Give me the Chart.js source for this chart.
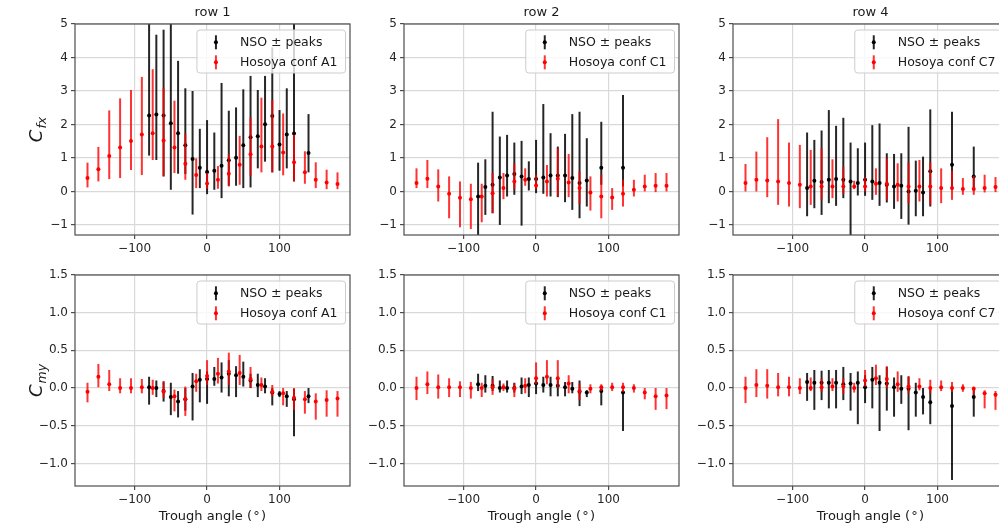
<!DOCTYPE html>
<html>
<head>
<meta charset="utf-8">
<script src="https://cdn.jsdelivr.net/npm/chart.js@4.4.1/dist/chart.umd.min.js"></script>
<style>
  html, body { margin: 0; padding: 0; background: #fff; }
  body { position: relative; width: 999px; height: 527px; overflow: hidden; }
  canvas { position: absolute; }
</style>
</head>
<body>
<script>
// ---- data ----
const hosoyaAngles = [-165,-150,-135,-120,-105,-90,-75,-60,-45,-30,-15,0,15,30,45,60,75,90,105,120,135,150,165,180];
const nsoAnglesRow1 = [-80,-70,-60,-50,-40,-30,-20,-10,0,10,20,30,40,50,60,70,80,90,100,110,120,140];
const nsoAnglesRow2 = [-80,-70,-60,-50,-40,-30,-20,-10,0,10,20,30,40,50,60,70,90,120];
const nsoAnglesRow4 = [-80,-70,-60,-50,-40,-30,-20,-10,0,10,20,30,40,50,60,70,80,90,120,150];

const rowTitles = ['row 1', 'row 2', 'row 4'];
const hosoyaConfs = ['A1', 'C1', 'C7'];
const angleTicks = [-100, 0, 100];
const cfxTicks = [-1, 0, 1, 2, 3, 4, 5];
const cmyTicks = [-1, -0.5, 0, 0.5, 1, 1.5];

// Cfx, row 1
const cfxRow1Hos     = [0.40,0.66,1.06,1.31,1.51,1.70,1.74,1.52,1.31,0.83,0.49,0.24,0.35,0.53,0.80,1.11,1.34,1.34,1.16,0.87,0.57,0.35,0.27,0.22];
const cfxRow1HosLow  = [0.12,0.30,0.37,0.40,0.64,0.49,0.94,0.45,0.55,0.35,0.10,0.08,0.08,0.15,0.20,0.47,0.57,0.57,0.48,0.30,0.23,0.10,0.07,0.07];
const cfxRow1HosHigh = [0.86,1.33,2.42,2.78,3.03,3.42,3.65,3.10,2.71,1.72,0.99,0.55,0.76,1.12,1.66,2.21,2.80,2.73,2.33,1.69,1.20,0.87,0.65,0.57];
const cfxRow1Nso     = [2.27,2.30,2.27,2.04,1.74,1.38,0.97,0.71,0.58,0.62,0.77,0.93,1.01,1.38,1.62,1.65,2.01,2.25,1.40,1.70,1.73,1.15];
const cfxRow1NsoLow  = [1.07,0.94,0.45,0.05,0.53,0.52,-0.69,0.10,-0.08,0.05,-0.20,0.17,0.17,0.10,0.12,0.69,0.89,0.57,0.62,0.69,0.30,0.57];
const cfxRow1NsoHigh = [5.60,4.68,4.83,5.30,3.90,3.08,3.00,1.87,2.13,1.76,3.24,2.41,2.51,3.05,3.45,3.03,3.45,4.30,2.43,3.08,5.50,2.31];

// Cfx, row 2
const cfxRow2Hos     = [0.25,0.38,0.15,-0.07,-0.19,-0.23,-0.15,-0.05,0.10,0.30,0.35,0.18,0.30,0.38,0.27,0.10,-0.03,-0.15,-0.18,-0.07,0.05,0.15,0.17,0.17];
const cfxRow2HosLow  = [0.10,0.10,-0.30,-0.80,-1.07,-1.12,-0.92,-0.65,-0.23,0.07,0.17,0.07,-0.15,-0.15,-0.17,-0.37,-0.57,-0.80,-0.55,-0.45,-0.15,0.00,-0.02,0.00];
const cfxRow2HosHigh = [0.69,0.94,0.66,0.45,0.30,0.23,0.23,0.55,0.55,0.84,0.69,0.50,0.79,1.29,1.12,0.60,0.45,0.50,0.10,0.35,0.35,0.50,0.55,0.55];
const cfxRow2Nso     = [-0.15,0.13,0.20,0.42,0.48,0.52,0.45,0.37,0.37,0.42,0.48,0.48,0.48,0.40,0.25,0.33,0.71,0.71];
const cfxRow2NsoLow  = [-1.60,-0.70,-0.65,-1.00,-0.15,-0.10,-1.02,0.03,-0.05,-0.07,-0.15,-0.17,-0.32,-0.55,-0.80,-0.45,0.20,0.15];
const cfxRow2NsoHigh = [0.86,0.96,2.38,1.64,1.69,1.46,1.51,0.90,1.54,2.61,1.74,1.34,1.72,2.31,2.38,1.59,2.08,2.88];

// Cfx, row 4
const cfxRow4Hos     = [0.25,0.35,0.33,0.30,0.25,0.20,0.15,0.15,0.15,0.15,0.15,0.15,0.23,0.23,0.20,0.15,0.15,0.15,0.10,0.10,0.07,0.07,0.10,0.13];
const cfxRow4HosLow  = [0.00,0.00,-0.17,-0.40,-0.45,-0.50,-0.40,-0.25,-0.20,-0.07,0.07,0.00,-0.10,-0.25,-0.30,-0.35,-0.30,-0.40,-0.35,-0.25,-0.10,-0.10,-0.03,-0.02];
const cfxRow4HosHigh = [0.82,1.19,1.62,2.16,1.46,1.39,1.24,1.29,0.96,0.74,0.32,0.42,0.69,0.99,0.84,0.87,0.94,0.87,0.69,0.62,0.40,0.47,0.50,0.43];
const cfxRow4Nso     = [0.10,0.32,0.28,0.35,0.37,0.35,0.30,0.25,0.35,0.30,0.25,0.20,0.15,0.17,0.00,0.02,-0.03,0.60,0.80,0.45];
const cfxRow4NsoLow  = [-0.74,-0.50,-0.70,-0.35,-0.43,-0.20,-1.50,-0.12,-0.13,-0.25,-0.43,-0.33,-0.52,-0.82,-0.99,-0.74,-0.74,-0.45,0.05,0.10];
const cfxRow4NsoHigh = [1.76,1.54,1.82,2.43,1.96,2.20,1.46,1.29,1.46,1.98,2.03,1.14,1.12,1.14,1.93,0.92,1.04,2.45,2.38,1.34];

// Cmy, row 1
const cmyRow1Hos     = [-0.05,0.15,0.05,0.00,0.00,0.01,0.00,-0.05,-0.11,-0.15,0.09,0.16,0.19,0.22,0.20,0.12,0.04,-0.05,-0.07,-0.13,-0.15,-0.18,-0.16,-0.14];
const cmyRow1HosLow  = [-0.19,0.01,-0.04,-0.07,-0.07,-0.07,-0.09,-0.13,-0.31,-0.37,-0.05,0.04,0.06,0.04,0.04,0.00,-0.04,-0.11,-0.23,-0.29,-0.34,-0.42,-0.38,-0.38];
const cmyRow1HosHigh = [0.07,0.32,0.24,0.13,0.13,0.12,0.11,0.08,-0.02,0.02,0.19,0.37,0.40,0.47,0.44,0.28,0.14,0.04,0.00,0.00,-0.04,-0.07,-0.03,-0.04];
const cmyRow1Nso     = [0.01,0.00,-0.04,-0.12,-0.18,-0.15,0.02,0.11,0.12,0.12,0.14,0.19,0.17,0.15,0.10,0.04,0.02,-0.06,-0.08,-0.11,-0.15,-0.11];
const cmyRow1NsoLow  = [-0.22,-0.12,-0.18,-0.36,-0.39,-0.30,-0.43,-0.19,-0.21,0.03,-0.06,-0.11,-0.12,0.02,0.00,-0.12,-0.07,-0.23,-0.12,-0.25,-0.64,-0.20];
const cmyRow1NsoHigh = [0.15,0.10,0.09,0.07,-0.04,0.00,0.20,0.25,0.22,0.28,0.34,0.37,0.29,0.35,0.19,0.19,0.13,0.00,-0.04,-0.04,-0.01,0.00];

// Cmy, row 2
const cmyRow2Hos     = [0.00,0.05,0.01,0.01,0.01,0.00,0.00,0.01,0.01,-0.01,0.03,0.13,0.15,0.13,0.06,-0.04,-0.01,0.01,0.01,0.01,0.00,-0.06,-0.11,-0.10];
const cmyRow2HosLow  = [-0.16,-0.08,-0.14,-0.12,-0.12,-0.14,-0.12,-0.09,-0.04,-0.12,-0.07,0.05,0.05,0.00,-0.07,-0.16,-0.07,-0.04,-0.04,-0.05,-0.06,-0.15,-0.29,-0.28];
const cmyRow2HosHigh = [0.15,0.22,0.18,0.13,0.09,0.08,0.07,0.12,0.06,0.06,0.13,0.34,0.37,0.37,0.17,0.06,0.05,0.05,0.07,0.07,0.05,0.00,0.00,0.00];
const cmyRow2Nso     = [0.05,0.03,0.03,0.00,0.00,0.00,0.02,0.04,0.06,0.04,0.04,0.03,0.01,-0.01,-0.05,-0.06,-0.04,-0.06];
const cmyRow2NsoLow  = [-0.04,-0.06,-0.04,-0.06,-0.06,-0.06,-0.08,-0.12,-0.08,-0.06,-0.11,-0.11,-0.11,-0.07,-0.24,-0.12,-0.23,-0.57];
const cmyRow2NsoHigh = [0.19,0.17,0.16,0.10,0.10,0.07,0.14,0.14,0.13,0.15,0.15,0.14,0.08,0.08,0.10,-0.03,0.02,-0.03];

// Cmy, row 4
const cmyRow4Hos     = [0.00,0.04,0.03,0.01,0.01,0.00,0.00,0.01,0.02,0.02,0.00,0.10,0.13,0.12,0.05,0.02,0.02,0.00,0.01,0.00,0.00,-0.01,-0.07,-0.09];
const cmyRow4HosLow  = [-0.20,-0.12,-0.14,-0.11,-0.11,-0.08,-0.04,-0.05,-0.04,-0.08,-0.06,0.02,0.04,0.00,-0.05,-0.07,-0.03,-0.07,-0.04,-0.05,-0.05,-0.09,-0.27,-0.29];
const cmyRow4HosHigh = [0.15,0.25,0.25,0.20,0.15,0.13,0.14,0.13,0.13,0.13,0.07,0.24,0.31,0.29,0.22,0.16,0.13,0.11,0.10,0.08,0.05,0.02,-0.03,-0.04];
const cmyRow4Nso     = [0.08,0.07,0.07,0.07,0.07,0.05,0.06,0.07,0.01,0.11,0.07,0.06,0.01,-0.01,-0.01,-0.06,-0.12,-0.19,-0.24,-0.12];
const cmyRow4NsoLow  = [-0.17,-0.29,-0.16,-0.27,-0.27,-0.16,-0.30,-0.48,-0.20,-0.27,-0.57,-0.30,-0.38,-0.21,-0.56,-0.38,-0.35,-0.48,-1.22,-0.38];
const cmyRow4NsoHigh = [0.20,0.24,0.23,0.24,0.24,0.28,0.20,0.22,0.17,0.28,0.17,0.28,0.14,0.17,0.15,0.07,0.00,0.00,0.00,0.00];

// axis limits (matplotlib autoscale on x, fixed y)
const X_MIN = -182.25, X_MAX = 197.25;
const CFX_MIN = -1.3, CFX_MAX = 5;
const CMY_MIN = -1.3, CMY_MAX = 1.5;

// ---- layout ----
const AXIS_W = 75, PLOT_W = 275, CANVAS_W = AXIS_W + PLOT_W + 5;
const colLeft = [0, 329, 658];
const rowTop = [0, 261];

Chart.defaults.font.family = '"DejaVu Sans", sans-serif';
Chart.defaults.color = '#262626';

const minus = s => String(s).replace('-', '\u2212');

const panels = [
  { row: 0, col: 0, sub: 'fx', nsoX: nsoAnglesRow1, nso: [cfxRow1Nso, cfxRow1NsoLow, cfxRow1NsoHigh], hos: [cfxRow1Hos, cfxRow1HosLow, cfxRow1HosHigh] },
  { row: 0, col: 1, sub: null, nsoX: nsoAnglesRow2, nso: [cfxRow2Nso, cfxRow2NsoLow, cfxRow2NsoHigh], hos: [cfxRow2Hos, cfxRow2HosLow, cfxRow2HosHigh] },
  { row: 0, col: 2, sub: null, nsoX: nsoAnglesRow4, nso: [cfxRow4Nso, cfxRow4NsoLow, cfxRow4NsoHigh], hos: [cfxRow4Hos, cfxRow4HosLow, cfxRow4HosHigh] },
  { row: 1, col: 0, sub: 'my', nsoX: nsoAnglesRow1, nso: [cmyRow1Nso, cmyRow1NsoLow, cmyRow1NsoHigh], hos: [cmyRow1Hos, cmyRow1HosLow, cmyRow1HosHigh] },
  { row: 1, col: 1, sub: null, nsoX: nsoAnglesRow2, nso: [cmyRow2Nso, cmyRow2NsoLow, cmyRow2NsoHigh], hos: [cmyRow2Hos, cmyRow2HosLow, cmyRow2HosHigh] },
  { row: 1, col: 2, sub: null, nsoX: nsoAnglesRow4, nso: [cmyRow4Nso, cmyRow4NsoLow, cmyRow4NsoHigh], hos: [cmyRow4Hos, cmyRow4HosLow, cmyRow4HosHigh] },
];

// vertical error bars, drawn just before each dataset's markers
const errorBarPlugin = {
  id: 'errorBars',
  beforeDatasetDraw(chart, args) {
    const ds = chart.data.datasets[args.index];
    const { ctx, chartArea: a } = chart;
    const y = chart.scales.y;
    ctx.save();
    ctx.beginPath();
    ctx.rect(a.left, a.top, a.right - a.left, a.bottom - a.top);
    ctx.clip();
    ctx.strokeStyle = ds.barColor;
    ctx.lineWidth = 2;
    args.meta.data.forEach((pt, i) => {
      ctx.beginPath();
      ctx.moveTo(pt.x, y.getPixelForValue(ds.low[i]));
      ctx.lineTo(pt.x, y.getPixelForValue(ds.high[i]));
      ctx.stroke();
    });
    ctx.restore();
  }
};

// spines, legend box and the mathtext-like y label
const framePlugin = {
  id: 'frame',
  afterDatasetsDraw(chart, args, opts) {
    const { ctx, chartArea: a } = chart;
    ctx.save();
    ctx.strokeStyle = '#4d4d4d';
    ctx.lineWidth = 1.2;
    ctx.strokeRect(a.left, a.top, a.right - a.left, a.bottom - a.top);

    // legend, upper right
    ctx.font = '12.5px "DejaVu Sans"';
    const sets = chart.data.datasets;
    const textW = Math.max(...sets.map(d => ctx.measureText(d.label).width));
    const w = 43 + textW + 8, h = 43;
    const lx = a.right - 4.5 - w, ly = a.top + 6;
    ctx.beginPath();
    ctx.roundRect(lx, ly, w, h, 3);
    ctx.fillStyle = 'rgba(255,255,255,0.8)';
    ctx.fill();
    ctx.strokeStyle = '#cccccc';
    ctx.lineWidth = 1;
    ctx.stroke();
    sets.forEach((d, i) => {
      const cy = ly + 12.3 + i * 20;
      ctx.strokeStyle = d.barColor;
      ctx.lineWidth = 2;
      ctx.beginPath();
      ctx.moveTo(lx + 19, cy - 7);
      ctx.lineTo(lx + 19, cy + 7);
      ctx.stroke();
      ctx.fillStyle = d.backgroundColor;
      ctx.beginPath();
      ctx.arc(lx + 19, cy, 2, 0, Math.PI * 2);
      ctx.fill();
      ctx.fillStyle = '#1a1a1a';
      ctx.textBaseline = 'middle';
      ctx.textAlign = 'left';
      ctx.fillText(d.label, lx + 43, cy);
    });

    if (opts.sub) {
      const cy = (a.top + a.bottom) / 2;
      ctx.translate(a.left - 33, cy);
      ctx.rotate(-Math.PI / 2);
      ctx.fillStyle = '#1a1a1a';
      ctx.textBaseline = 'alphabetic';
      ctx.font = 'italic 18px "DejaVu Sans"';
      const wc = ctx.measureText('C').width;
      ctx.font = 'italic 12.5px "DejaVu Sans"';
      const ws = ctx.measureText(opts.sub).width;
      const x0 = -(wc + ws + 1) / 2;
      ctx.font = 'italic 18px "DejaVu Sans"';
      ctx.fillText('C', x0, 0);
      ctx.font = 'italic 12.5px "DejaVu Sans"';
      ctx.fillText(opts.sub, x0 + wc + 1, 4);
    }
    ctx.restore();
  }
};

panels.forEach(p => {
  const isTop = p.row === 0;
  const canvas = document.createElement('canvas');
  canvas.width = CANVAS_W;
  canvas.height = isTop ? 257 : 263;
  canvas.style.left = colLeft[p.col] + 'px';
  canvas.style.top = rowTop[p.row] + 'px';
  document.body.appendChild(canvas);

  const yTicks = isTop ? cfxTicks : cmyTicks;
  const gridOpts = { color: '#d9d9d9', lineWidth: 1.2, tickColor: '#4d4d4d', tickLength: 4, tickWidth: 1.2 };

  new Chart(canvas, {
    type: 'scatter',
    data: {
      datasets: [
        {
          label: 'NSO \u00b1 peaks',
          data: p.nsoX.map((x, i) => ({ x, y: p.nso[0][i] })),
          low: p.nso[1], high: p.nso[2],
          backgroundColor: '#000000', borderColor: '#000000', barColor: 'rgba(0,0,0,0.85)',
          pointRadius: 2, borderWidth: 0, order: 1
        },
        {
          label: 'Hosoya conf ' + hosoyaConfs[p.col],
          data: hosoyaAngles.map((x, i) => ({ x, y: p.hos[0][i] })),
          low: p.hos[1], high: p.hos[2],
          backgroundColor: '#ff0000', borderColor: '#ff0000', barColor: 'rgba(255,0,0,0.8)',
          pointRadius: 2, borderWidth: 0, order: 0
        }
      ]
    },
    options: {
      responsive: false,
      animation: false,
      events: [],
      layout: { padding: { top: isTop ? 0 : 14, right: 5, left: 0, bottom: 0 } },
      plugins: {
        legend: { display: false },
        tooltip: { enabled: false },
        title: {
          display: isTop, text: rowTitles[p.col], color: '#1a1a1a', fullSize: false,
          font: { size: 13, weight: 'normal', lineHeight: 1.2 },
          padding: { top: 5, bottom: 3.4 }
        },
        frame: { sub: p.sub }
      },
      scales: {
        x: {
          type: 'linear', min: X_MIN, max: X_MAX,
          afterBuildTicks: s => { s.ticks = angleTicks.map(v => ({ value: v })); },
          afterFit: s => { s.height = isTop ? 22 : 38; },
          grid: gridOpts,
          border: { display: false },
          ticks: { font: { size: 12 }, padding: 3, maxRotation: 0, callback: v => minus(v) },
          title: { display: !isTop, text: 'Trough angle (\u200a\u00b0\u200a)', color: '#1a1a1a', font: { size: 13 }, padding: 0 }
        },
        y: {
          type: 'linear',
          min: isTop ? CFX_MIN : CMY_MIN, max: isTop ? CFX_MAX : CMY_MAX,
          afterBuildTicks: s => { s.ticks = yTicks.map(v => ({ value: v })); },
          afterFit: s => { s.width = AXIS_W; },
          grid: gridOpts,
          border: { display: false },
          ticks: { font: { size: 12 }, padding: 3, callback: v => minus(isTop ? v : v.toFixed(1)) }
        }
      }
    },
    plugins: [errorBarPlugin, framePlugin]
  });
});
</script>
</body>
</html>
